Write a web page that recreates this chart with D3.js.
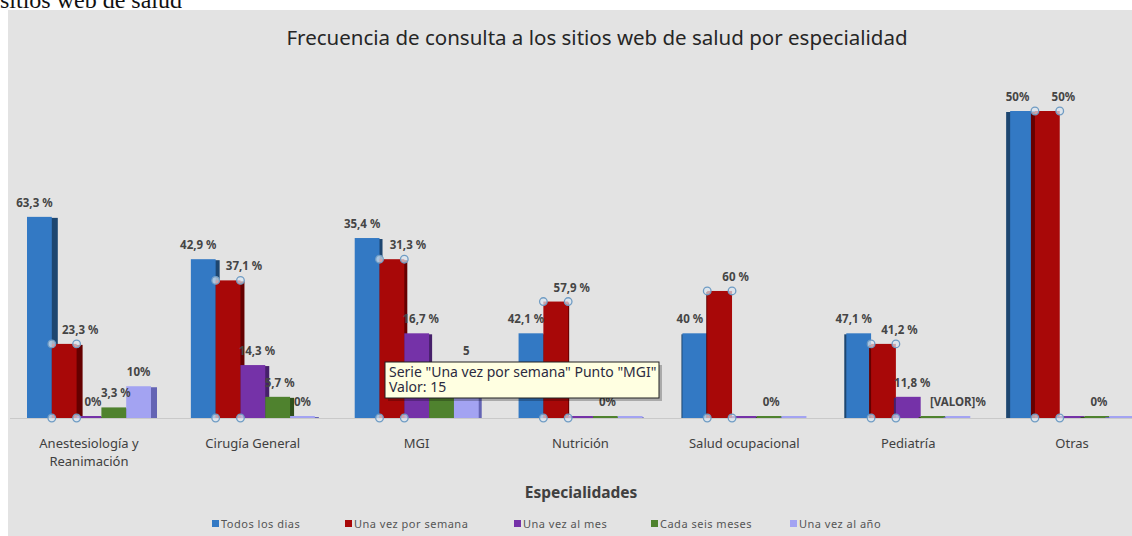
<!DOCTYPE html>
<html>
<head>
<meta charset="utf-8">
<title>Frecuencia de consulta</title>
<style>
  body { margin: 0; background: #fff; }
  svg { display: block; }
</style>
</head>
<body>
<div id="chart"></div>
<script src="https://cdn.jsdelivr.net/npm/d3@7/dist/d3.min.js"></script>
<script>
// categorias y series (valores = numero de respuestas; etiquetas = % mostrado)
var categorias = ["Anestesiología y Reanimación", "Cirugía General", "MGI", "Nutrición",
                  "Salud ocupacional", "Pediatría", "Otras"];
var series = ["Todos los dias", "Una vez por semana", "Una vez al mes", "Cada seis meses", "Una vez al año"];

var todosLosDias   = [19, 15, 17, 8, 8, 8, 29];
var vezPorSemana   = [7, 13, 15, 11, 12, 7, 29];
var vezAlMes       = [0, 5, 8, 0, 0, 2, 0];
var cadaSeisMeses  = [1, 2, 4, 0, 0, 0, 0];
var vezAlAnio      = [3, 0, 5, 0, 0, 0, 0];

var lblTodos  = ["63,3 %", "42,9 %", "35,4 %", "42,1 %", "40 %", "47,1 %", "50%"];
var lblSemana = ["23,3 %", "37,1 %", "31,3 %", "57,9 %", "60 %", "41,2 %", "50%"];
var lblMes    = ["0%", "14,3 %", "16,7 %", "", "", "11,8 %", ""];
var lblSeis   = ["3,3 %", "5,7 %", "", "0%", "0%", "", "0%"];
var lblAnio   = ["10%", "0%", "5", "", "", "[VALOR]%", ""];

var tooltipLineas = ["Serie \"Una vez por semana\" Punto \"MGI\"", "Valor: 15"];

var valores = [todosLosDias, vezPorSemana, vezAlMes, cadaSeisMeses, vezAlAnio];
var etiquetas = [lblTodos, lblSemana, lblMes, lblSeis, lblAnio];
var colores = ["#3379c4", "#a80808", "#7532a8", "#4f822e", "#a3a3f2"];
var lados   = ["#1d4670", "#650000", "#46206a", "#2f4f1c", "#6464b4"];
var dxEtiq  = [-5, 16, 4, 2, 0];

var W = 1132, H = 536;
var svg = d3.select("#chart").append("svg").attr("width", W).attr("height", H)
    .style("font-family", "'Noto Sans', 'Open Sans', sans-serif");

// fondo blanco y texto cortado arriba
svg.append("rect").attr("width", W).attr("height", H).attr("fill", "#fff");
svg.append("text").attr("x", 0).attr("y", 8)
    .attr("font-family", "'Liberation Serif', 'DejaVu Serif', serif")
    .attr("font-size", 24).attr("fill", "#111")
    .text("sitios web de  salud");

// area del grafico
svg.append("rect").attr("x", 8).attr("y", 10).attr("width", W - 8).attr("height", H - 10)
    .attr("fill", "#e3e3e3");

svg.append("text").attr("x", 597).attr("y", 45).attr("text-anchor", "middle")
    .attr("font-size", 20.5).attr("fill", "#262626")
    .text("Frecuencia de consulta a los sitios web de salud por especialidad");

// escalas
var x0 = d3.scaleBand().domain(categorias).range([9, 1156]).padding(0);
var x1 = d3.scaleBand().domain(series).range([18, 142]).padding(0);
var y = d3.scaleLinear().domain([0, 29]).range([418, 111]);
var centroX = 680;

// linea base
svg.append("line").attr("x1", 10).attr("x2", W).attr("y1", y(0) + 0.5).attr("y2", y(0) + 0.5)
    .attr("stroke", "#c9c9c9");

// barras
var datos = [];
categorias.forEach(function (c, i) {
  series.forEach(function (s, j) {
    datos.push({ cat: c, serie: s, j: j, v: valores[j][i], lbl: etiquetas[j][i] });
  });
});

var grupos = svg.append("g");
datos.forEach(function (d) {
  var bx = x0(d.cat) + x1(d.serie);
  var bw = x1.bandwidth();
  var top = Math.min(y(d.v), y(0) - 2);
  var h = y(0) - top;
  var cx = x0(d.cat) + x0.bandwidth() / 2;
  var lado = Math.round((cx - centroX) / centroX * 7);
  var g = grupos.append("g");
  if (lado < 0) {
    g.append("rect").attr("x", bx + bw - 1).attr("y", top + 1).attr("width", -lado + 1).attr("height", h - 1)
        .attr("fill", lados[d.j]);
  } else if (lado > 0) {
    g.append("rect").attr("x", bx - lado).attr("y", top + 1).attr("width", lado + 1).attr("height", h - 1)
        .attr("fill", lados[d.j]);
  }
  g.append("rect").attr("x", bx).attr("y", top).attr("width", bw).attr("height", h)
      .attr("fill", colores[d.j]);
  d.bx = bx; d.bw = bw; d.top = top; d.lado = lado;
});

// etiquetas de datos
svg.append("g").selectAll("text").data(datos.filter(function (d) { return d.lbl !== ""; }))
  .enter().append("text")
    .attr("x", function (d) { return d.bx + d.bw / 2 + dxEtiq[d.j]; })
    .attr("y", function (d) { return d.top - 10; })
    .attr("text-anchor", "middle")
    .attr("font-size", 11.5).attr("font-weight", "bold").attr("fill", "#454545")
    .text(function (d) { return d.lbl; });

// marcadores de seleccion de la serie "Una vez por semana"
var sel = [];
datos.filter(function (d) { return d.j === 1; }).forEach(function (d) {
  sel.push([d.bx, d.top], [d.bx + d.bw, d.top], [d.bx, y(0)], [d.bx + d.bw, y(0)]);
});
svg.append("g").selectAll("circle").data(sel).enter().append("circle")
    .attr("cx", function (p) { return p[0]; }).attr("cy", function (p) { return p[1]; })
    .attr("r", 3.8).attr("fill", "#dbe6ef").attr("fill-opacity", 0.7)
    .attr("stroke", "#6f9cc4").attr("stroke-width", 1.3);

// etiquetas de categorias
var ejeX = svg.append("g");
categorias.forEach(function (c) {
  var cx = x0(c) + x0.bandwidth() / 2 - 2;
  var lineas = c === "Anestesiología y Reanimación" ? ["Anestesiología y", "Reanimación"] : [c];
  lineas.forEach(function (t, k) {
    ejeX.append("text").attr("x", cx).attr("y", 448 + k * 18).attr("text-anchor", "middle")
        .attr("font-size", 13).attr("fill", "#404040").text(t);
  });
});

svg.append("text").attr("x", 581).attr("y", 498).attr("text-anchor", "middle")
    .attr("font-size", 15.5).attr("font-weight", "bold").attr("fill", "#404040")
    .text("Especialidades");

// leyenda
var legX = [212, 345, 514, 651, 790];
var ley = svg.append("g");
series.forEach(function (s, j) {
  ley.append("rect").attr("x", legX[j]).attr("y", 520).attr("width", 7).attr("height", 7)
      .attr("fill", colores[j]);
  ley.append("text").attr("x", legX[j] + 9).attr("y", 528)
      .attr("font-size", 11).attr("letter-spacing", 0.5).attr("fill", "#555").text(s);
});

// tooltip
var tip = svg.append("g").attr("transform", "translate(385,362)");
tip.append("rect").attr("x", 3).attr("y", 3).attr("width", 274).attr("height", 36)
    .attr("fill", "#000").attr("opacity", 0.25);
tip.append("rect").attr("x", 0).attr("y", 0).attr("width", 274).attr("height", 36)
    .attr("fill", "#ffffe1").attr("stroke", "#222").attr("stroke-width", 1);
tooltipLineas.forEach(function (t, k) {
  tip.append("text").attr("x", 4).attr("y", 15 + k * 15)
      .attr("font-size", 14).attr("fill", "#2b2b40").text(t);
});
</script>
</body>
</html>
